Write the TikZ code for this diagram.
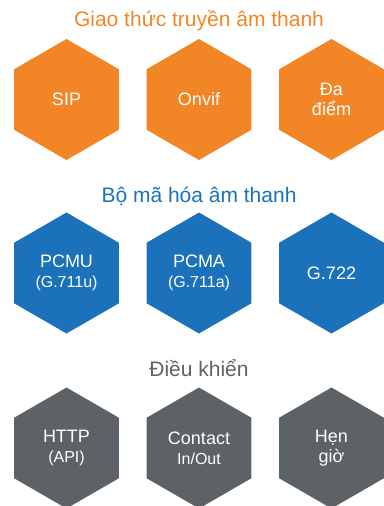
\documentclass[tikz,border=0pt]{standalone}
\usepackage{fontspec}
\setmainfont{Liberation Sans}
\usetikzlibrary{shapes.geometric}
\definecolor{tangerine}{HTML}{F28526}
\definecolor{cobalt}{HTML}{1B72BA}
\definecolor{slate}{HTML}{5D6266}
\newcommand\subline[1]{{\fontsize{16}{19}\selectfont #1}}

\begin{document}
\begin{tikzpicture}[x=1pt,y=-1pt,
	hexa/.style={regular polygon,regular polygon sides=6,regular polygon rotate=30,minimum size=121pt,inner sep=0pt,text=white,align=center,font=\fontsize{18}{20}\selectfont},
	heading/.style={anchor=base,font=\fontsize{21}{24}\selectfont}]
	\useasboundingbox (0,0) rectangle (383,506);
	% giao thuc
	\node[heading,text=tangerine] (protocols) at (199,26) {Giao thức truyền âm thanh};
	\node[hexa,fill=tangerine] (sip) at (66.5,99.5) {SIP};
	\node[hexa,fill=tangerine] (onvif) at (199,99.5) {Onvif};
	\node[hexa,fill=tangerine] (dadiem) at (331.5,99.5) {Đa\\điểm};
	% codec
	\node[heading,text=cobalt] (codecs) at (199,202) {Bộ mã hóa âm thanh};
	\node[hexa,fill=cobalt] (pcmu) at (66.5,273) {PCMU\\\subline{(G.711u)}};
	\node[hexa,fill=cobalt] (pcma) at (199,273) {PCMA\\\subline{(G.711a)}};
	\node[hexa,fill=cobalt] (gseven) at (331.5,273) {G.722};
	% dieu khien
	\node[heading,text=slate] (control) at (199,376) {Điều khiển};
	\node[hexa,fill=slate] (http) at (66.5,448) {HTTP\\\subline{(API)}};
	\node[hexa,fill=slate] (contact) at (199,448) {Contact\\\subline{In/Out}};
	\node[hexa,fill=slate] (hengio) at (331.5,448) {Hẹn\\giờ};
\end{tikzpicture}
\end{document}
